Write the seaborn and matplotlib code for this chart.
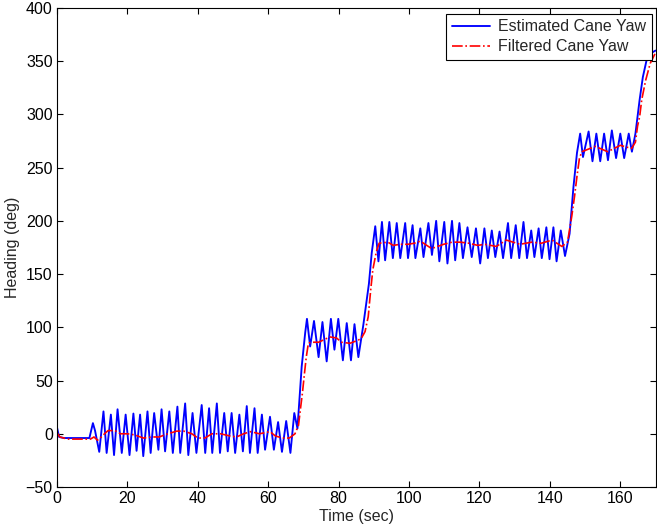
import matplotlib
matplotlib.use("Agg")
from matplotlib import pyplot as plt
import seaborn as sns
import pandas as pd

# blue: estimated cane yaw (peaks / troughs)
est_time = [
    0, 0.6, 2, 9.2, 9.7, 10.2, 10.8, 12.0, 13.2, 14.1,
    15.3, 16.2, 17.2, 18.4, 19.5, 20.6, 21.7, 22.6, 23.6, 24.5,
    25.7, 26.6, 27.6, 28.8, 29.7, 30.7, 31.9, 32.9, 34.2, 35.0,
    36.4, 37.3, 38.5, 39.6, 41.1, 42.1, 43.2, 44.1, 45.4, 46.3,
    47.5, 48.5, 49.6, 50.6, 51.8, 52.8, 53.9, 54.8, 56.1, 57.0,
    58.2, 59.1, 60.5, 61.6, 62.8, 63.9, 65.1, 66.3, 67.4, 68.3,
    69.5, 70.5, 71.0, 71.9, 73.0, 74.3, 75.4, 76.6, 77.8, 78.8,
    79.9, 81.2, 82.3, 83.5, 84.5, 85.6, 87.0, 88.0, 88.6, 89.4,
    90.4, 91.3, 92.3, 93.2, 94.4, 95.4, 96.5, 97.5, 98.9, 99.7,
    101.0, 101.8, 103.2, 104.1, 105.5, 106.5, 107.7, 108.6, 110.0, 110.9,
    112.2, 113.1, 114.3, 115.3, 116.6, 117.8, 119.0, 120.2, 121.4, 122.4,
    123.5, 124.5, 125.7, 126.7, 128.1, 129.0, 130.3, 131.3, 132.5, 133.5,
    134.7, 135.6, 136.8, 137.7, 139.0, 139.9, 141.0, 141.9, 143.1, 144.3,
    145.6, 146.7, 147.7, 148.6, 149.4, 151.0, 152.1, 153.2, 154.3, 155.4,
    156.5, 157.6, 158.8, 160.0, 161.1, 162.4, 163.3, 164.3, 164.8, 165.5,
    166.4, 167.4, 168.4, 170,
]
est_yaw = [
    6, -3, -4, -4, 3, 10, 3, -17, 21, -18,
    18, -20, 23, -18, 18, -20, 19, -16, 18, -21,
    21, -18, 19.5, -15, 23, -16.5, 21, -18, 25.5, -18,
    28.5, -20, 19.5, -18, 27, -18, 24, -18, 28.5, -18,
    19.5, -16.5, 19.5, -18, 18, -16.5, 26, -18, 24, -18,
    18, -15, 16, -15, 11, -17, 12, -18, 19.5, 5,
    63, 95, 108, 82, 106, 72, 105, 68, 108, 79,
    108, 69, 104, 69, 103, 72, 102, 126, 141, 170,
    195, 162, 199, 163, 199, 165, 198, 165, 198, 165,
    196, 165, 193, 166, 198, 168, 200, 162, 199, 160,
    200, 163, 198, 165, 194, 166, 193, 160, 193, 165,
    191, 166, 190, 165, 198, 165, 196, 165, 199, 165,
    191, 166, 193, 165, 194, 164, 194, 162, 191, 167,
    188, 232, 264, 282, 260, 284, 256, 282, 256, 282,
    257, 285, 259, 282, 259, 282, 265, 282, 295, 314,
    335, 350, 357, 360,
]

# red: filtered cane yaw
filt_time = [
    0, 0.8, 3, 9.5, 10.5, 11.5, 12.3, 13.5, 14.5, 16.5,
    18, 20, 22, 24.5, 27, 29, 31.5, 34, 36, 38.3,
    40, 42, 44, 46.5, 49, 51, 53, 55, 57.5, 60.5,
    62, 64, 66, 67.6, 68.6, 69.1, 69.7, 70.3, 70.8, 71.4,
    72.2, 74.3, 75.6, 77.5, 79.4, 80.8, 83.2, 85.6, 86.5, 87.5,
    88.4, 89.1, 89.7, 90.7, 91.5, 94, 95.5, 97.5, 99.6, 101.5,
    103.2, 106.4, 109.8, 112.2, 114.6, 117, 119.5, 121.5, 124.8, 127.6,
    131.5, 134.8, 137.6, 140.6, 143.4, 145, 146.2, 147.0, 147.7, 148.4,
    149.1, 152.9, 156.4, 160.0, 163.2, 164.3, 164.9, 165.5, 166.1, 167.2,
    168.5, 170,
]
filt_yaw = [
    1, -3, -5, -5, -3, -6, -4, 0, 3, 3,
    0, 0, -1, -4, -3, -3, 0, 2.5, 2.5, 0,
    -4, -4, 0, 0, -2, -3, 0, 2, 0, 2,
    -2, -4, -4, 0, 8, 22, 38, 57, 72, 85,
    86, 86, 88, 91, 90, 86, 85, 88, 90, 96,
    110, 135, 154, 171, 179, 180, 177, 178, 178, 179,
    181, 174, 178, 180, 180, 179, 177, 178, 176, 182,
    178, 180, 179, 182, 176, 180, 204, 223, 242, 259,
    265, 270, 265, 271, 268, 274, 289, 298, 314, 332,
    348, 358,
]

est = pd.DataFrame({"t": est_time, "yaw": est_yaw})
filt = pd.DataFrame({"t": filt_time, "yaw": filt_yaw})

sns.set_style("ticks")
plt.rcParams["font.family"] = ["Liberation Sans", "DejaVu Sans"]
plt.rcParams["font.size"] = 11.5

fig = plt.figure(figsize=(6.57, 5.27), dpi=100)
ax = fig.add_axes([57 / 657, 40 / 527, 598.5 / 657, 479 / 527])

sns.lineplot(data=est, x="t", y="yaw", ax=ax, color="#0000ff", lw=1.35,
             label="Estimated Cane Yaw")
sns.lineplot(data=filt, x="t", y="yaw", ax=ax, color="#ff0000", lw=1.2,
             linestyle="-.", label="Filtered Cane Yaw")

ax.set_xlim(0, 170)
ax.set_ylim(-50, 400)
ax.set_xticks(range(0, 161, 20))
ax.set_yticks(range(-50, 401, 50))
ax.set_xlabel("Time (sec)", fontsize=11.5, labelpad=2)
ax.set_ylabel("Heading (deg)", fontsize=11.5, labelpad=4)
ax.tick_params(direction="in", length=4, width=0.8, top=True, right=True,
               labelsize=11.5, pad=3, colors="black")
for s in ax.spines.values():
    s.set_visible(True)
    s.set_linewidth(0.8)
    s.set_color("black")

leg = ax.legend(loc="upper right", bbox_to_anchor=(0.994, 0.988), fancybox=False,
                framealpha=1, edgecolor="black", fontsize=11.5, handlelength=2.4,
                handletextpad=0.5, borderpad=0.35, labelspacing=0.3,
                borderaxespad=0)
leg.get_frame().set_linewidth(0.8)

plt.savefig("out.png", dpi=100)
